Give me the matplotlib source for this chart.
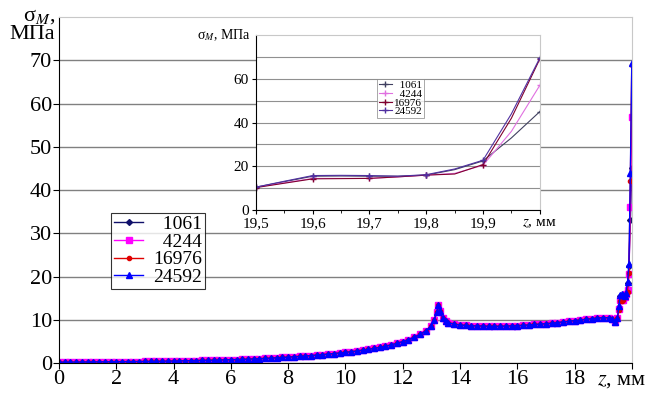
import matplotlib
matplotlib.use('Agg')
import matplotlib.pyplot as plt

plt.rcParams['font.family'] = ['Liberation Serif', 'DejaVu Serif']
plt.rcParams['mathtext.fontset'] = 'stix'

# main curve (all meshes coincide up to z = 19.4 mm)
z_base = [0.0, 0.2, 0.4, 0.6, 0.8, 1.0, 1.2, 1.4, 1.6, 1.8, 2.0, 2.2, 2.4, 2.6, 2.8,
          3.0, 3.2, 3.4, 3.6, 3.8, 4.0, 4.2, 4.4, 4.6, 4.8, 5.0, 5.2, 5.4, 5.6, 5.8,
          6.0, 6.2, 6.4, 6.6, 6.8, 7.0, 7.2, 7.4, 7.6, 7.8, 8.0, 8.2, 8.4, 8.6, 8.8,
          9.0, 9.2, 9.4, 9.6, 9.8, 10.0, 10.2, 10.4, 10.6, 10.8, 11.0, 11.2, 11.4,
          11.6, 11.8, 12.0, 12.2, 12.4, 12.6, 12.8, 13.0, 13.1, 13.2, 13.25, 13.3,
          13.4, 13.5, 13.6, 13.8, 14.0, 14.2, 14.4, 14.6, 14.8, 15.0, 15.2, 15.4,
          15.6, 15.8, 16.0, 16.2, 16.4, 16.6, 16.8, 17.0, 17.2, 17.4, 17.6, 17.8,
          18.0, 18.2, 18.4, 18.6, 18.8, 19.0, 19.2, 19.3, 19.4]
s_base = [0.20, 0.20, 0.21, 0.22, 0.23, 0.25, 0.26, 0.27, 0.28, 0.29, 0.30, 0.31,
          0.32, 0.33, 0.34, 0.35, 0.37, 0.39, 0.41, 0.43, 0.45, 0.48, 0.51, 0.54,
          0.57, 0.60, 0.63, 0.66, 0.69, 0.72, 0.76, 0.80, 0.84, 0.89, 0.94, 1.00,
          1.06, 1.13, 1.20, 1.28, 1.36, 1.44, 1.53, 1.62, 1.72, 1.83, 1.94, 2.06,
          2.19, 2.32, 2.46, 2.61, 2.78, 2.96, 3.16, 3.38, 3.62, 3.89, 4.20, 4.55,
          4.95, 5.40, 5.95, 6.60, 7.40, 8.60, 10.0, 11.8, 13.4, 12.0, 10.4, 9.7,
          9.3, 9.0, 8.8, 8.7, 8.6, 8.6, 8.55, 8.5, 8.5, 8.5, 8.55, 8.6, 8.65, 8.7,
          8.8, 8.9, 9.0, 9.1, 9.2, 9.35, 9.5, 9.65, 9.8, 9.95, 10.1, 10.25, 10.4,
          10.5, 10.45, 10.2, 9.4]

# near the free end the meshes differ
z_tail = [19.5, 19.55, 19.6, 19.65, 19.7, 19.75, 19.8, 19.85, 19.9, 19.95, 20.0]
tail_1061 = [10.5, 13.0, 15.5, 15.6, 15.5, 15.5, 16.0, 18.5, 22.5, 33.0, 45.0]
tail_4244 = [10.5, 12.5, 14.5, 14.5, 14.5, 15.2, 16.0, 16.8, 20.5, 36.0, 57.0]
tail_16976 = [10.3, 12.3, 14.3, 14.4, 14.5, 15.2, 16.0, 16.5, 20.8, 42.0, 69.0]
tail_24592 = [10.5, 13.2, 15.8, 15.9, 15.8, 15.5, 16.2, 18.8, 22.8, 44.0, 69.5]

labels = ['1061', '4244', '16976', '24592']
tails = [tail_1061, tail_4244, tail_16976, tail_24592]
colors = ['#10106a', '#ff00ff', '#e00000', '#0000ff']
markers = ['D', 's', 'o', '^']
msizes = [3, 4, 3, 4]
inset_colors = ['#404060', '#e070e0', '#800030', '#5030a0']

# legend texts are right-aligned in the original: pad with figure spaces
width = max(len(s) for s in labels)
leg_labels = ['\u2007' * (width - len(s)) + s for s in labels]

fig = plt.figure(figsize=(6.48, 3.98), dpi=100)
ax = fig.add_axes([0.091, 0.088, 0.884, 0.869])

for lab, tail, c, m, ms in zip(leg_labels, tails, colors, markers, msizes):
    ax.plot(z_base + z_tail, s_base + tail, color=c, lw=1, marker=m, ms=ms,
            mec=c, mfc=c, label=lab)

ax.set_xlim(0, 20)
ax.set_ylim(0, 80)
ax.set_yticks(range(0, 80, 10))
ax.set_xticks(range(0, 22, 2))
ax.set_xticklabels([str(v) for v in range(0, 20, 2)] + [''])
ax.tick_params(labelsize=16, length=4, direction='out', pad=1)
ax.grid(axis='y', color='#808080', lw=1)
ax.set_axisbelow(True)
ax.spines['top'].set_color('#c8c8c8')
ax.spines['right'].set_color('#c8c8c8')
ax.text(-0.007, 0.975, 'σ$_{M}$,\nМПа', transform=ax.transAxes, fontsize=16,
        ha='right', va='center', multialignment='right', linespacing=0.95)
ax.text(1.026, -0.022, '$z$, мм', transform=ax.transAxes, fontsize=16,
        ha='right', va='top')

leg = ax.legend(loc='lower left', bbox_to_anchor=(0.091, 0.214), fontsize=14,
                frameon=True, fancybox=False, edgecolor='black', handlelength=1.5,
                borderpad=0.15, labelspacing=0.0, handletextpad=0.5,
                borderaxespad=0)
leg.get_frame().set_linewidth(0.8)

# inset
ins = fig.add_axes([0.395, 0.472, 0.438, 0.44])
for lab, tail, c in zip(leg_labels, tails, inset_colors):
    ins.plot(z_tail, tail, color=c, lw=0.8, marker='+', ms=4, markevery=2, label=lab)
ins.set_xlim(19.5, 20.0)
ins.set_ylim(0, 80)
ins.set_yticks([0, 20, 40, 60])
ins.set_yticks(range(10, 80, 10), minor=True)
ins.set_xticks([19.5, 19.6, 19.7, 19.8, 19.9, 20.0])
ins.set_xticks([19.55, 19.65, 19.75, 19.85, 19.95], minor=True)
ins.set_xticklabels(['19,5', '19,6', '19,7', '19,8', '19,9', '$z$, мм'])
ins.tick_params(labelsize=11, length=3, direction='out', pad=2)
ins.tick_params(which='minor', length=2)
ins.tick_params(axis='y', which='minor', length=0)
ins.grid(axis='y', which='both', color='#909090', lw=0.8)
ins.set_axisbelow(True)
ins.spines['top'].set_color('#c8c8c8')
ins.spines['right'].set_color('#c8c8c8')
ins.text(-0.02, 1.0, 'σ$_{M}$, МПа', transform=ins.transAxes, fontsize=10,
         ha='right', va='center')
ileg = ins.legend(loc='lower left', bbox_to_anchor=(0.426, 0.526), fontsize=8,
                  frameon=True, fancybox=False, edgecolor='#808080',
                  handlelength=1.2, borderpad=0.15, labelspacing=-0.1,
                  handletextpad=0.2, borderaxespad=0)
ileg.get_frame().set_linewidth(0.6)

fig.savefig('out.png', dpi=100)
